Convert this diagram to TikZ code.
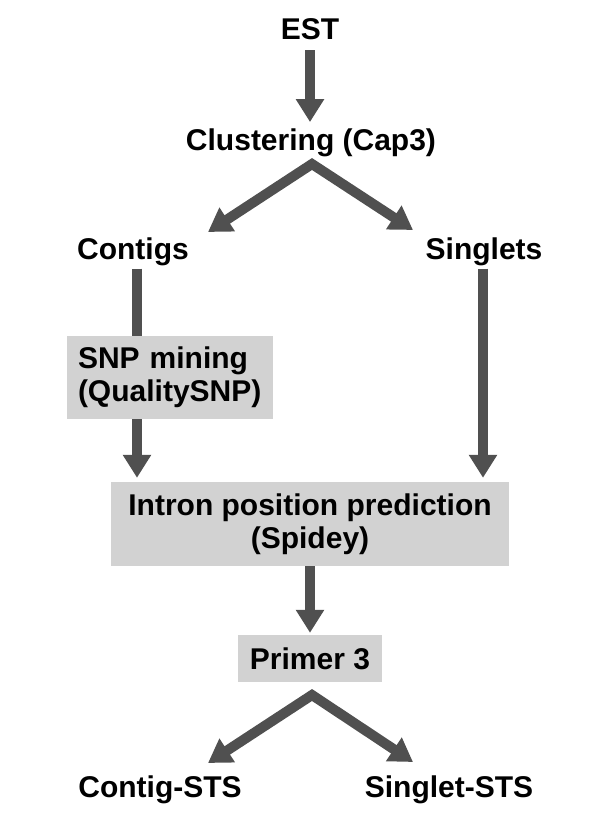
\documentclass[tikz,border=0pt]{standalone}
\usepackage{fontspec}
\setmainfont{Liberation Sans}
\usepackage{tikz}
\usetikzlibrary{arrows.meta}
\definecolor{arrowgray}{RGB}{80,80,80}
\definecolor{boxgray}{RGB}{210,210,210}
\tikzset{
  lbl/.style={font=\bfseries\fontsize{30}{33}\selectfont, inner sep=0pt},
  box/.style={lbl, fill=boxgray, inner xsep=11pt},
  flow/.style={draw=arrowgray, line width=10pt, -{Triangle[width=27pt,length=23pt]}},
  bar/.style={draw=arrowgray, line width=10pt}
}

\begin{document}
\begin{tikzpicture}[x=1pt, y=-1pt]
\useasboundingbox (0,0) rectangle (600,836);
% labels
\node[lbl, anchor=base] (est) at (310,39) {EST};
\node[lbl, anchor=base] (clust) at (311,150) {Clustering (Cap3)};
\node[lbl, anchor=base] (contigs) at (133,259) {Contigs};
\node[lbl, anchor=base] (singlets) at (484,259) {Singlets};
\node[box, text width=184pt, minimum height=83pt, align=left] (snp) at (170,377.5) {SNP mining\\(QualitySNP)};
\node[box, minimum width=398pt, minimum height=84pt, align=center] (intron) at (310,524) {Intron position prediction\\(Spidey)};
\node[box, minimum width=144pt, minimum height=47pt] (primer) at (310,658.5) {Primer 3};
\node[lbl, anchor=base] (contigsts) at (160,797) {Contig-STS};
\node[lbl, anchor=base] (singletsts) at (449,797) {Singlet-STS};
% split points and tips
\coordinate (clustsplit) at (312,164);
\coordinate (contigtip) at (208,232);
\coordinate (singlettip) at (413,230);
\coordinate (primersplit) at (312,695);
\coordinate (contigststip) at (208,763);
\coordinate (singletststip) at (413,762);
% arrows
\draw[flow, shorten <=11pt, shorten >=6pt] (est.south) -- (est.south |- clust.north);
\draw[flow, {Triangle[width=27pt,length=23pt]}-{Triangle[width=27pt,length=23pt]}, line join=miter] (contigtip) -- (clustsplit) -- (singlettip);
\draw[bar, shorten <=3pt] ([xshift=4pt]contigs.south) -- ([xshift=4pt]contigs.south |- snp.north);
\draw[flow, shorten >=4pt] ([xshift=4pt]contigs.south |- snp.south) -- ([xshift=4pt]contigs.south |- intron.north);
\draw[flow, shorten <=3pt, shorten >=4pt] ([xshift=-1pt]singlets.south) -- ([xshift=-1pt]singlets.south |- intron.north);
\draw[flow, shorten >=2pt] (intron.south) -- (primer.north);
\draw[flow, {Triangle[width=27pt,length=23pt]}-{Triangle[width=27pt,length=23pt]}, line join=miter] (contigststip) -- (primersplit) -- (singletststip);
\end{tikzpicture}
\end{document}
